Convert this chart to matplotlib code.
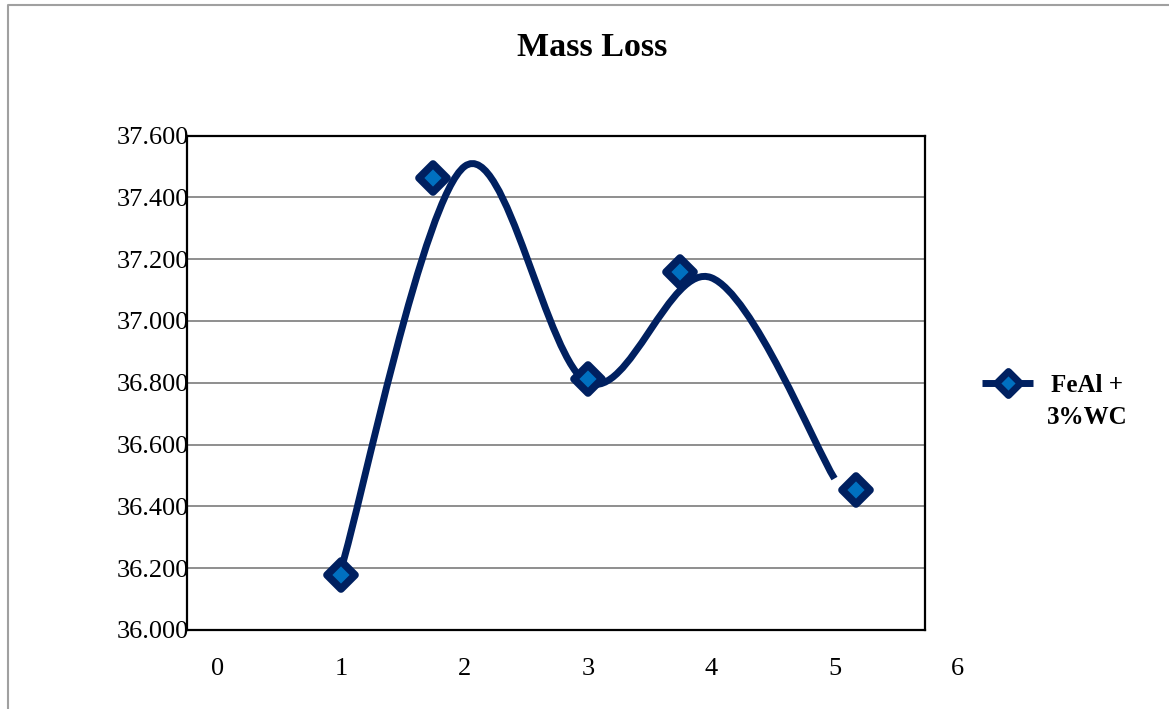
import matplotlib
matplotlib.use("Agg")
import matplotlib.pyplot as plt
import numpy as np
from matplotlib.path import Path
from matplotlib.patches import PathPatch
from matplotlib.lines import Line2D
from matplotlib.markers import MarkerStyle

# ---- data ----
title = "Mass Loss"
series_name = "FeAl +\n3%WC"
curve_x = [1, 2, 3, 4, 5]
curve_y = [36.20, 37.50, 36.80, 37.14, 36.49]
marker_x = [1.0, 1.746, 3.0, 3.75, 5.175]
marker_y = [36.178, 37.461, 36.812, 37.159, 36.452]
y_ticks = [36.0, 36.2, 36.4, 36.6, 36.8, 37.0, 37.2, 37.4, 37.6]
x_tick_vals = [0, 1, 2, 3, 4, 5, 6]
x_tick_labels = ["0", "1", "2", "3", "4", "5", "6"]

NAVY = "#002060"
MFACE = "#0070C0"
GRID = "#868686"
SERIF = ["Liberation Serif", "DejaVu Serif"]

W, H = 1169, 709
fig = plt.figure(figsize=(W / 100, H / 100), dpi=100)
fig.patch.set_facecolor("white")

# plot area in pixels
L, R, T, B = 187, 925, 135.5, 630
ax = fig.add_axes([L / W, 1 - B / H, (R - L) / W, (B - T) / H])
px_per_unit = 123.3
ax.set_xlim(-(218 - L) / px_per_unit, (R - 218) / px_per_unit)
ax.set_ylim(36.0, 37.6)

for s in ax.spines.values():
    s.set_linewidth(1.6)
    s.set_color("black")

ax.set_xticks([])
ax.set_yticks(y_ticks)
ax.set_yticklabels([f"{v:.3f}" for v in y_ticks], fontfamily=SERIF, fontsize=19)
ax.tick_params(axis="y", length=0, pad=-1.5)
for v in y_ticks[1:-1]:
    ax.axhline(v, color=GRID, lw=1.3, zorder=1)

# x tick labels (drawn as text so the last one beyond the axis still shows)
trans = ax.get_xaxis_transform()
for xv, lab in zip(x_tick_vals, x_tick_labels):
    ax.text(xv, -39 / (B - T), lab, transform=trans, ha="center", va="center",
            fontfamily=SERIF, fontsize=19, clip_on=False)

# smooth curve (Catmull-Rom as cubic Bezier, like Excel smoothing)
pts = np.column_stack([curve_x, curve_y]).astype(float)
n = len(pts)
verts = [pts[0]]
codes = [Path.MOVETO]
for i in range(n - 1):
    p0 = pts[i - 1] if i > 0 else pts[i]
    p1 = pts[i]
    p2 = pts[i + 1]
    p3 = pts[i + 2] if i + 2 < n else pts[i + 1]
    c1 = p1 + (p2 - p0) / 6.0
    c2 = p2 - (p3 - p1) / 6.0
    verts += [c1, c2, p2]
    codes += [Path.CURVE4] * 3
ax.add_patch(PathPatch(Path(verts, codes), facecolor="none", edgecolor=NAVY,
                       lw=5, capstyle="butt", joinstyle="round", zorder=3))

mk = MarkerStyle("D", joinstyle="round")
ax.plot(marker_x, marker_y, ls="none", marker=mk, ms=14, mfc=MFACE,
        mec=NAVY, mew=5.5, zorder=4, clip_on=False)

# title
fig.text(592 / W, 1 - 47 / H, title, ha="center", va="center",
         fontfamily=SERIF, fontsize=24.5, fontweight="bold")

# legend (manual)
ly = 1 - 383 / H
fig.add_artist(Line2D([982 / W, 1033 / W], [ly, ly], color=NAVY, lw=5,
                      solid_capstyle="butt"))
fig.add_artist(Line2D([1008 / W], [ly], ls="none", marker=MarkerStyle("D", joinstyle="round"),
                      ms=12, mfc=MFACE, mec=NAVY, mew=5))
fig.text(1087 / W, 1 - 401 / H, series_name, ha="center", va="center",
         multialignment="center", fontfamily=SERIF, fontsize=18,
         fontweight="bold", linespacing=1.5)

# outer chart border (top and left visible)
fig.add_artist(Line2D([8 / W, 8 / W, 1.0], [0.0, 1 - 5 / H, 1 - 5 / H],
                      color="#A0A0A0", lw=1.5))

fig.savefig("out.png", dpi=100)
